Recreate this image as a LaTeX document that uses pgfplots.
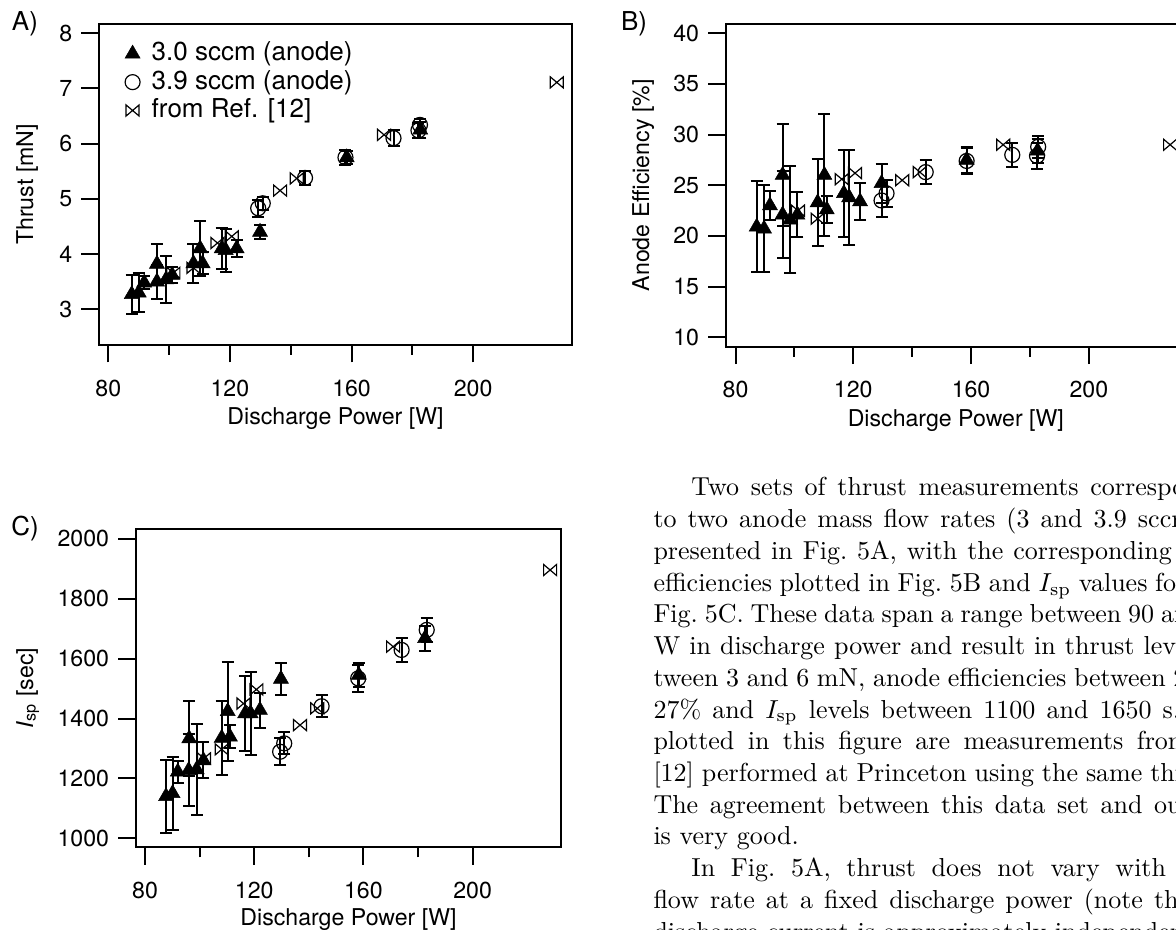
\documentclass[border=0pt]{standalone}
\usepackage{fontspec}
\usepackage{pgfplots}
\usepackage{pgfplotstable}
\pgfplotsset{compat=1.18}
\newfontfamily\hv{TeX Gyre Heros}
\newcommand\figfont{\hv\fontsize{8.9}{10.5}\selectfont}
\newcommand\legfont{\hv\fontsize{10}{12}\selectfont}
\newlength{\px}
\setlength{\px}{0.38462pt}

% open bowtie mark (the "from Ref. [12]" points)
\pgfdeclareplotmark{bowtie}{%
  \pgfpathmoveto{\pgfqpoint{-\pgfplotmarksize}{-0.85\pgfplotmarksize}}%
  \pgfpathlineto{\pgfqpoint{-\pgfplotmarksize}{0.85\pgfplotmarksize}}%
  \pgfpathlineto{\pgfqpoint{\pgfplotmarksize}{-0.85\pgfplotmarksize}}%
  \pgfpathlineto{\pgfqpoint{\pgfplotmarksize}{0.85\pgfplotmarksize}}%
  \pgfpathclose
  \pgfusepathqstroke}

% thrust [mN]
\pgfplotstableread{
P     V     E
87.7  3.27  0.35
90.0  3.30  0.35
91.8  3.48  0.12
96.0  3.82  0.37
96.0  3.50  0.31
99.0  3.54  0.43
101.0 3.62  0.15
108.0 3.83  0.35
110.2 4.10  0.49
111.0 3.83  0.20
117.3 4.10  0.37
118.6 4.07  0.39
122.2 4.10  0.16
129.9 4.40  0.12
158.4 5.75  0.12
182.6 6.25  0.15
}\Atri
\pgfplotstableread{
P     V     E
129.3 4.83  0.15
130.8 4.92  0.12
144.7 5.38  0.12
158.0 5.75  0.13
173.8 6.10  0.14
182.5 6.34  0.11
182.0 6.24  0.13
}\Acirc
\pgfplotstableread{
P     V
101.4 3.66
108.0 3.75
115.9 4.20
120.6 4.32
136.5 5.15
142.0 5.37
170.7 6.16
227.5 7.11
}\Aref

% anode efficiency [%]
\pgfplotstableread{
P     V     E
87.2  20.9  4.5
89.7  20.7  4.3
91.7  23.0  1.4
96.0  26.0  5.0
96.0  22.1  4.3
98.6  21.6  5.3
101.0 22.1  2.2
107.9 23.3  4.3
110.2 26.0  6.0
111.0 22.6  1.35
116.8 24.2  4.3
118.6 23.8  4.7
122.3 23.4  1.8
129.6 25.2  1.9
158.5 27.5  1.3
182.6 28.4  1.2
}\Btri
\pgfplotstableread{
P     V     E
129.6 23.5  1.6
131.3 24.2  1.3
144.6 26.3  1.2
158.5 27.4  1.3
174.0 28.0  1.2
182.8 28.8  1.1
182.4 27.9  1.3
}\Bcirc
\pgfplotstableread{
P     V
101.2 22.5
107.9 21.7
116.1 25.6
120.6 26.2
136.6 25.5
142.6 26.3
170.9 29.0
227.6 29.0
}\Bref

% Isp [sec]
\pgfplotstableread{
P     V     E
87.7  1140  121
90.1  1150  122
92.0  1222  37
96.2  1333  126
96.0  1227  120
98.9  1230  151
101.4 1260  60
108.1 1335  124
110.3 1424  166
111.1 1339  38
116.7 1417  124
118.7 1417  138
122.1 1428  58
129.8 1532  52
158.3 1545  40
182.6 1668  42
}\Ctri
\pgfplotstableread{
P     V     E
129.5 1289  45
131.0 1317  37
144.7 1441  37
158.1 1534  46
174.0 1629  39
183.2 1696  39
}\Ccirc
\pgfplotstableread{
P     V
101.6 1267
108.1 1297
116.1 1450
120.8 1497
136.8 1378
143.1 1434
170.9 1640
228.4 1896
}\Cref

\pgfplotsset{
  panel/.style={
    scale only axis, anchor=south west,
    axis line style={line width=2\px},
    tick style={line width=2\px, black},
    tick align=outside,
    xtick pos=left, ytick pos=left,
    major tick length=17.5\px, minor tick length=10\px,
    xtick={80,120,160,200}, minor x tick num=1,
    tick label style={font=\figfont},
    xticklabel style={yshift=-8\px},
    /pgf/number format/assume math mode=true,
    /pgf/number format/1000 sep={},
    xlabel={Discharge Power [W]},
    every axis x label/.style={anchor=base, font=\figfont},
    every axis y label/.style={rotate=90, anchor=base, font=\figfont},
  },
  ebar/.style={
    error bars/y dir=both, error bars/y explicit,
    error bars/error bar style={line width=2\px, black},
    error bars/error mark options={rotate=90, mark size=6\px, line width=2\px, black},
  },
  tri/.style={only marks, mark=triangle*, mark size=8.7\px,
    mark options={fill=black, draw=black, line width=0.5\px}, ebar},
  circ/.style={only marks, mark=o, mark size=7.5\px,
    mark options={draw=black, line width=1.2\px}, ebar},
  bow/.style={only marks, mark=bowtie, mark size=6.5\px,
    mark options={draw=black, line width=1.2\px}},
}

\begin{document}
\begin{tikzpicture}
\path[use as bounding box] (0,0) rectangle (1176\px,930\px);
\clip (0,0) rectangle (1176\px,930\px);

% A) thrust
\begin{axis}[panel, at={(99\px,585\px)}, width=473\px, height=321\px,
  xmin=76.94, xmax=232.5, ymin=2.353, ymax=8.168, ytick={3,4,5,6,7,8},
  ylabel={Thrust [mN]},
  ylabel style={at={(axis description cs:-0.1395,0.5)}},
  xlabel style={at={(axis description cs:0.5,-0.249)}},
  legend style={at={(axis description cs:0.054,0.948)}, anchor=north west,
    draw=none, fill=none, inner sep=0pt, row sep=1.2pt, font=\legfont,
    nodes={inner ysep=0pt, inner xsep=1pt, text height=0.75em, text depth=0.22em},
    /tikz/every odd column/.append style={column sep=9\px}},
  legend cell align=left,
  legend image code/.code={\draw[mark repeat=2,mark phase=2,#1]
    plot coordinates {(0cm,0cm)(0.15cm,0cm)(0.3cm,0cm)};},
]
\addplot[tri] table[x=P,y=V,y error=E] {\Atri};
\addlegendentry{3.0 sccm (anode)}
\addplot[circ] table[x=P,y=V,y error=E] {\Acirc};
\addlegendentry{3.9 sccm (anode)}
\addplot[bow] table[x=P,y=V] {\Aref};
\addlegendentry{from Ref. [12]}
\end{axis}

% B) anode efficiency
\begin{axis}[panel, at={(725.7\px,583.3\px)}, width=460.3\px, height=322.7\px,
  xmin=76.67, xmax=233.0, ymin=9.07, ymax=40.92, ytick={10,15,...,40},
  ylabel={Anode Efficiency [\%]},
  ylabel style={at={(axis description cs:-0.1666,0.5)}},
  xlabel style={at={(axis description cs:0.5,-0.248)}},
]
\addplot[tri] table[x=P,y=V,y error=E] {\Btri};
\addplot[circ] table[x=P,y=V,y error=E] {\Bcirc};
\addplot[bow] table[x=P,y=V] {\Bref};
\end{axis}

% C) specific impulse
\begin{axis}[panel, at={(135.7\px,82.7\px)}, width=425.6\px, height=318\px,
  xmin=76.59, xmax=232.5, ymin=970, ymax=2032, ytick={1000,1200,...,2000},
  ylabel={\textit{I}\textsubscript{sp} [sec]},
  ylabel style={at={(axis description cs:-0.2413,0.5)}},
  xlabel style={at={(axis description cs:0.5,-0.2453)}},
]
\addplot[tri] table[x=P,y=V,y error=E] {\Ctri};
\addplot[circ] table[x=P,y=V,y error=E] {\Ccirc};
\addplot[bow] table[x=P,y=V] {\Cref};
\end{axis}

\node[font=\legfont] at (25\px,906\px) {A)};
\node[font=\legfont] at (634\px,906\px) {B)};
\node[font=\legfont] at (25\px,401\px) {C)};

\node[anchor=base west, inner sep=0pt, text width=229pt, align=justify,
  font=\fontsize{10}{12.2}\selectfont] at (653\px,434\px) {%
\hspace*{14.6pt}Two sets of thrust measurements corresponding\linebreak
to two anode mass flow rates (3 and 3.9 sccm) are\linebreak
presented in Fig.~5A, with the corresponding anode\linebreak
efficiencies plotted in Fig.~5B and $I_{\rm sp}$ values found in\linebreak
Fig.~5C. These data span a range between 90 and 180\linebreak
W in discharge power and result in thrust levels be-\linebreak
tween 3 and 6 mN, anode efficiencies between 20 and\linebreak
27\% and $I_{\rm sp}$ levels between 1100 and 1650 s. Also\linebreak
plotted in this figure are measurements from Ref.\linebreak{}
[12] performed at Princeton using the same thruster.\linebreak
The agreement between this data set and our own\linebreak
is very good.\par
\hspace*{14.6pt}In Fig.~5A, thrust does not vary with anode\linebreak
flow rate at a fixed discharge power (note that the\linebreak
discharge current is approximately independent of\par};
\end{tikzpicture}
\end{document}
